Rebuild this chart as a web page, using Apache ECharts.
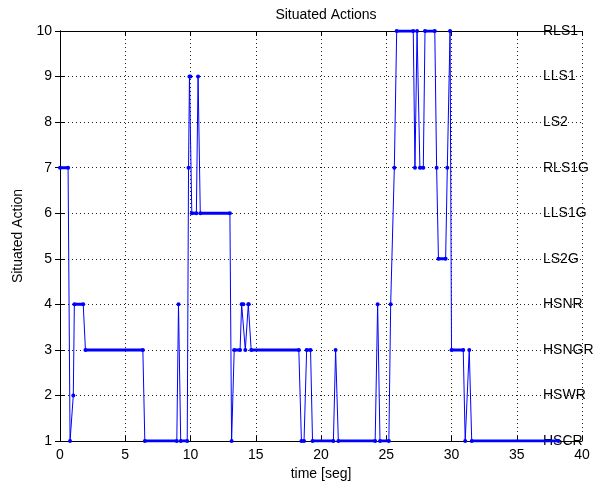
<!DOCTYPE html>
<html>
<head>
<meta charset="utf-8">
<script src="https://cdn.jsdelivr.net/npm/echarts@6/dist/echarts.min.js"></script>
<style>
  html, body { margin: 0; padding: 0; background: #fff; }
  #main { width: 608px; height: 489px; }
</style>
</head>
<body>
<div id="main"></div>
<script>
// runs of constant action: start time, end time, level
const runStart = [0.0, 0.77, 1.02, 1.1, 1.95, 6.5, 9.08, 9.25, 9.85, 9.92, 10.1, 10.58, 10.75,
  13.15, 13.35, 13.92, 14.2, 14.43, 14.65, 18.5, 18.9, 19.35, 21.12, 21.33, 24.34, 24.52,
  25.34, 25.62, 25.8, 27.2, 27.36, 27.58, 27.97, 28.86, 29.0, 29.68, 29.89, 30.0, 31.05, 31.36, 31.55];
const runEnd = [0.62, 0.77, 1.02, 1.78, 6.35, 8.95, 9.08, 9.75, 9.85, 10.0, 10.45, 10.58, 13.02,
  13.15, 13.8, 14.05, 14.2, 14.46, 18.3, 18.7, 19.2, 20.95, 21.12, 24.15, 24.34, 25.2,
  25.34, 25.62, 27.07, 27.2, 27.36, 27.84, 28.72, 28.86, 29.55, 29.68, 29.89, 30.9, 31.05, 31.36, 38.2];
const runLevel = [7, 1, 2, 4, 3, 1, 4, 1, 7, 9, 6, 9, 6,
  1, 3, 4, 3, 4, 3, 1, 3, 1, 3, 1, 4, 1,
  4, 7, 10, 7, 10, 7, 10, 7, 5, 7, 10, 3, 1, 3, 1];

const actionNames = ['HSCR', 'HSWR', 'HSNGR', 'HSNR', 'LS2G', 'LLS1G', 'RLS1G', 'LS2', 'LLS1', 'RLS1'];

const lineData = [];
const runData = [];
runStart.forEach(function (s, i) {
  lineData.push([s, runLevel[i]]);
  runData.push([s, runLevel[i]]);
  if (runEnd[i] > s) {
    lineData.push([runEnd[i], runLevel[i]]);
    runData.push([runEnd[i], runLevel[i]]);
  }
  runData.push([null, null]);
});

const font = "'Liberation Sans', Arial, sans-serif";
const dotted = { color: '#222', width: 1, type: [1, 3] };

let option = {
  animation: false,
  backgroundColor: '#fff',
  textStyle: { fontFamily: font },
  title: {
    text: 'Situated Actions',
    left: 321,
    top: 3,
    textAlign: 'center',
    textStyle: { fontFamily: font, fontSize: 14, fontWeight: 'normal', color: '#000' }
  },
  grid: { left: 60, right: 26, top: 31, bottom: 48 },
  xAxis: [
    {
      type: 'value',
      min: 0,
      max: 40,
      interval: 5,
      name: 'time [seg]',
      nameLocation: 'middle',
      nameGap: 24,
      nameTextStyle: { fontFamily: font, fontSize: 14, color: '#000' },
      axisLine: { lineStyle: { color: '#000' } },
      axisTick: { inside: true, length: 5, lineStyle: { color: '#000' } },
      axisLabel: { fontFamily: font, fontSize: 14, color: '#000', margin: 7 },
      splitLine: { show: true, lineStyle: dotted }
    },
    {
      type: 'value',
      position: 'top',
      min: 0,
      max: 40,
      interval: 5,
      axisLine: { show: true, lineStyle: { color: '#000' } },
      axisTick: { inside: true, length: 5, lineStyle: { color: '#000' } },
      axisLabel: { show: false },
      splitLine: { show: false }
    }
  ],
  yAxis: [
    {
      type: 'value',
      min: 1,
      max: 10,
      interval: 1,
      name: 'Situated Action',
      nameLocation: 'middle',
      nameGap: 31,
      nameTextStyle: { fontFamily: font, fontSize: 14, color: '#000' },
      axisLine: { show: true, lineStyle: { color: '#000' } },
      axisTick: { show: true, inside: true, length: 5, lineStyle: { color: '#000' } },
      axisLabel: { fontFamily: font, fontSize: 14, color: '#000', margin: 8 },
      splitLine: { show: true, lineStyle: dotted }
    },
    {
      type: 'value',
      position: 'right',
      min: 1,
      max: 10,
      interval: 1,
      axisLine: { show: true, lineStyle: { color: '#000' } },
      axisTick: { show: true, inside: true, length: 5, lineStyle: { color: '#000' } },
      axisLabel: {
        inside: true,
        align: 'left',
        margin: 39,
        fontFamily: font,
        fontSize: 14,
        color: '#000',
        formatter: function (v) { return actionNames[v - 1] || ''; }
      },
      splitLine: { show: false }
    }
  ],
  series: [
    {
      name: 'action',
      type: 'line',
      data: lineData,
      showSymbol: false,
      lineStyle: { color: '#0000ff', width: 1 },
      z: 3
    },
    {
      name: 'samples',
      type: 'line',
      data: runData,
      connectNulls: false,
      symbol: 'circle',
      symbolSize: 4,
      showSymbol: true,
      itemStyle: { color: '#0000ff' },
      lineStyle: { color: '#0000ff', width: 3 },
      z: 4
    }
  ]
};

let myChart = echarts.init(document.getElementById('main'));
myChart.setOption(option);
</script>
</body>
</html>
